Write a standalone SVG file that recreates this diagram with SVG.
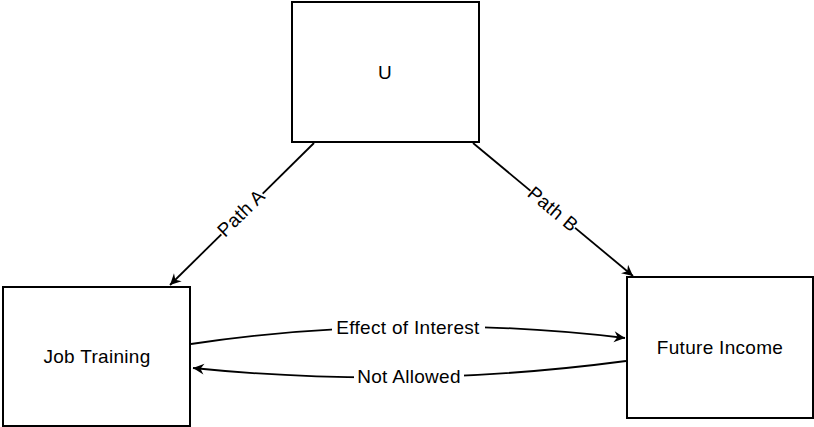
<svg xmlns="http://www.w3.org/2000/svg" width="814" height="427" viewBox="0 0 814 427">
<style>
.box{fill:#fff;stroke:#000;stroke-width:2}
.t{font-family:"Liberation Sans",Arial,sans-serif;font-size:19px;fill:#000;text-anchor:middle;dominant-baseline:central;letter-spacing:0.3px}
.e{fill:none;stroke:#000;stroke-width:1.8}
.lb{fill:#fff}
</style>
<defs>
<marker id="arr" markerUnits="userSpaceOnUse" markerWidth="16" markerHeight="14" viewBox="-12 -7 14 14" refX="0" refY="0" orient="auto">
<path d="M0,0 L-11,-5.5 L-7.5,0 L-11,5.5 Z" fill="#000"/>
</marker>
</defs>
<g id="U"><rect class="box" x="292" y="2" width="187" height="140"/><text class="t" x="385" y="72">U</text></g>
<g id="JobTraining"><rect class="box" x="3" y="287" width="187" height="139"/><text class="t" x="97" y="356">Job Training</text></g>
<g id="FutureIncome"><rect class="box" x="627" y="277" width="186" height="141"/><text class="t" x="720" y="347">Future Income</text></g>
<g id="connectors">
<path class="e" d="M314,143 L170,285" marker-end="url(#arr)"/>
<path class="e" d="M473,143 L633,276" marker-end="url(#arr)"/>
<path class="e" d="M191,344 Q408,312 625,338" marker-end="url(#arr)"/>
<path class="e" d="M626,361 Q408,390 193,368" marker-end="url(#arr)"/>
<g transform="translate(241,213) rotate(-44.6)"><rect class="lb" x="-29" y="-10" width="58" height="20"/><text class="t" x="0" y="0">Path A</text></g>
<g transform="translate(553,209) rotate(39.7)"><rect class="lb" x="-29" y="-10" width="58" height="20"/><text class="t" x="0" y="0">Path B</text></g>
<rect class="lb" x="332" y="317" width="153" height="20"/><text class="t" x="408" y="327">Effect of Interest</text>
<rect class="lb" x="354" y="366" width="110" height="20"/><text class="t" x="409" y="376">Not Allowed</text>
</g>
</svg>
